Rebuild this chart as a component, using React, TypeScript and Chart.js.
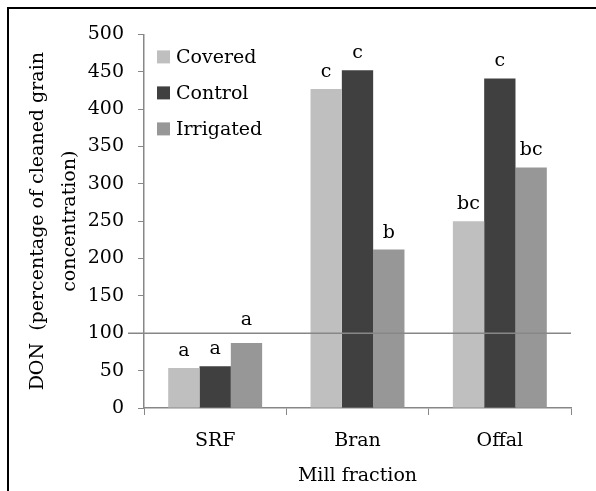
import React, { useEffect, useRef } from "react";
import { Chart, registerables } from "chart.js";

Chart.register(...registerables);

const categories = ["SRF", "Bran", "Offal"];
const seriesNames = ["Covered", "Control", "Irrigated"];
const covered = [53.5, 427, 250];
const control = [56, 452, 441];
const irrigated = [87, 212, 322];
const coveredLetters = ["a", "c", "bc"];
const controlLetters = ["a", "c", "c"];
const irrigatedLetters = ["a", "b", "bc"];
const seriesColors = ["#bfbfbf", "#404040", "#979797"];
const referenceValue = 100;
const yTitle = ["DON  (percentage of cleaned grain", "concentration)"];
const xTitle = "Mill fraction";

const FONT = "'DejaVu Serif', serif";
const FS = 19;
const AXIS = "#878787";

const letters = [coveredLetters, controlLetters, irrigatedLetters];

const overlayPlugin = {
  id: "overlay",
  afterDatasetsDraw(chart: any) {
    const { ctx, chartArea, scales } = chart;
    const y = scales.y;
    const lineY = y.getPixelForValue(referenceValue);
    ctx.save();
    ctx.strokeStyle = AXIS;
    ctx.lineWidth = 1.5;
    ctx.beginPath();
    ctx.moveTo(chartArea.left - 16, lineY);
    ctx.lineTo(chartArea.right, lineY);
    ctx.stroke();
    ctx.fillStyle = "#000";
    ctx.font = `${FS}px ${FONT}`;
    ctx.textAlign = "center";
    ctx.textBaseline = "alphabetic";
    chart.data.datasets.forEach((ds: any, di: number) => {
      const meta = chart.getDatasetMeta(di);
      meta.data.forEach((bar: any, i: number) => {
        let base = bar.y - 12;
        if (base > lineY - 6 && base < lineY + 14) base = lineY - 8;
        ctx.fillText(letters[di][i], bar.x, base);
      });
    });
    ctx.textAlign = "left";
    ctx.textBaseline = "middle";
    seriesNames.forEach((name, i) => {
      const cy = chartArea.top + 22.5 + i * 36;
      ctx.fillStyle = seriesColors[i];
      ctx.fillRect(chartArea.left + 13, cy - 6.5, 13, 13);
      ctx.fillStyle = "#000";
      ctx.fillText(name, chartArea.left + 32, cy + 1);
    });
    ctx.restore();
  },
};

export default function App() {
  const ref = useRef<HTMLCanvasElement | null>(null);
  useEffect(() => {
    if (!ref.current) return;
    const chart = new Chart(ref.current, {
      type: "bar",
      data: {
        labels: categories,
        datasets: [
          { label: seriesNames[0], data: covered, backgroundColor: seriesColors[0] },
          { label: seriesNames[1], data: control, backgroundColor: seriesColors[1] },
          { label: seriesNames[2], data: irrigated, backgroundColor: seriesColors[2] },
        ],
      },
      options: {
        animation: false,
        responsive: false,
        maintainAspectRatio: false,
        layout: { padding: { left: 0, top: 22, right: 25, bottom: 0 }, autoPadding: false },
        datasets: { bar: { categoryPercentage: 0.66, barPercentage: 1.0, borderWidth: 0 } },
        plugins: { legend: { display: false }, tooltip: { enabled: false } },
        scales: {
          x: {
            grid: { drawOnChartArea: false, drawTicks: true, tickLength: 7, color: AXIS, offset: true },
            border: { color: AXIS, width: 1.5 },
            ticks: { color: "#000", font: { family: FONT, size: FS }, padding: 15 },
            title: {
              display: true,
              text: xTitle,
              color: "#000",
              font: { family: FONT, size: FS, lineHeight: 1.2 },
              padding: { top: 0, bottom: 4 },
            },
            afterFit: (s: any) => { s.height = 83; },
          },
          y: {
            min: 0,
            max: 500,
            ticks: { stepSize: 50, color: "#000", font: { family: FONT, size: FS }, padding: 14 },
            grid: { drawOnChartArea: false, drawTicks: true, tickLength: 6, color: AXIS },
            border: { color: AXIS, width: 1.5 },
            title: {
              display: true,
              text: yTitle,
              color: "#000",
              font: { family: FONT, size: FS, lineHeight: 1.7 },
              padding: { top: 13, bottom: 0 },
            },
            afterFit: (s: any) => { s.width = 135; },
          },
        },
      },
      plugins: [overlayPlugin],
    } as any);
    return () => chart.destroy();
  }, []);
  return (
    <div
      style={{
        position: "absolute",
        left: 7,
        top: 7,
        width: 587,
        height: 482,
        borderLeft: "2px solid #000",
        borderTop: "2px solid #000",
        background: "#fff",
      }}
    >
      <canvas ref={ref} width={587} height={482} style={{ display: "block", width: 587, height: 482 }} />
    </div>
  );
}
